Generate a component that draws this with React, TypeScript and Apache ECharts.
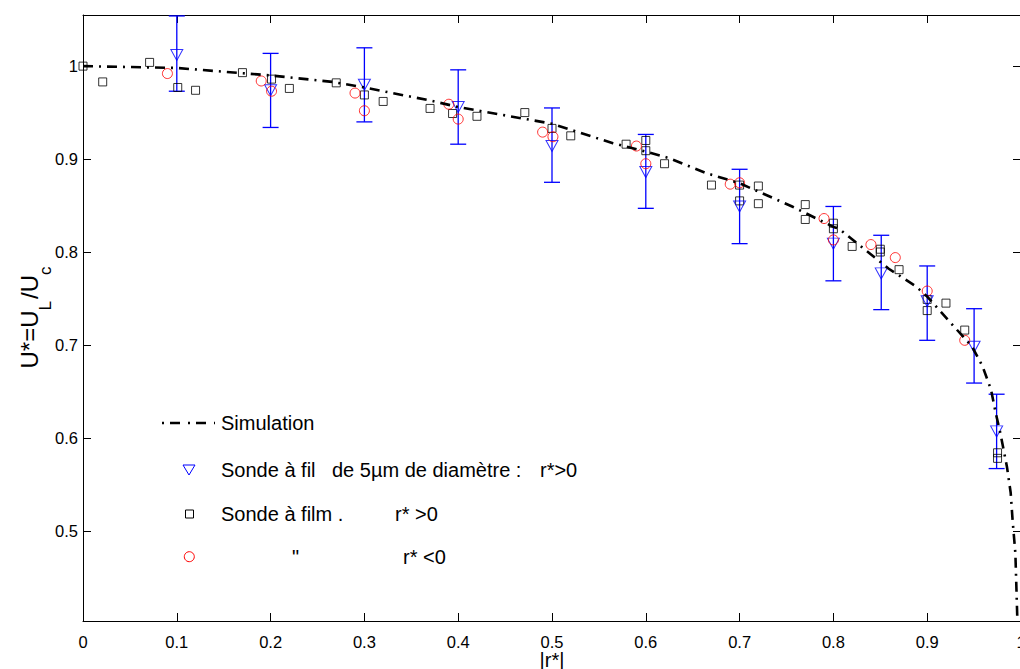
import React, { useEffect, useRef } from 'react';
import * as echarts from 'echarts';

const FONT = '"Liberation Sans", Arial, Helvetica, sans-serif';

// Simulation curve
const simR = [0, 0.1, 0.2, 0.266, 0.3, 0.37, 0.4, 0.5, 0.565, 0.6, 0.625, 0.664, 0.7, 0.756, 0.8, 0.806, 0.859, 0.888, 0.9, 0.948, 0.959, 0.968, 0.973, 0.978, 0.985, 0.989, 0.991, 0.994, 0.996, 0.9965];
const simU = [1.0, 0.998, 0.99, 0.983, 0.977, 0.963, 0.956, 0.938, 0.917, 0.908, 0.901, 0.885, 0.874, 0.849, 0.827, 0.825, 0.782, 0.763, 0.752, 0.698, 0.677, 0.652, 0.627, 0.605, 0.569, 0.541, 0.512, 0.476, 0.408, 0.402];

// Sonde à fil (r* > 0) with error bars
const trR = [0.1, 0.2, 0.3, 0.4, 0.5, 0.6, 0.7, 0.8, 0.851, 0.9, 0.95, 0.974];
const trU = [1.012, 0.974, 0.980, 0.956, 0.914, 0.886, 0.849, 0.809, 0.777, 0.747, 0.698, 0.607];
const trLow = [0.973, 0.934, 0.940, 0.916, 0.875, 0.847, 0.809, 0.769, 0.738, 0.705, 0.659, 0.567];
const trHigh = [1.054, 1.0137, 1.0197, 0.996, 0.955, 0.9265, 0.889, 0.849, 0.818, 0.785, 0.739, 0.647];

// Sonde à film, r* > 0
const sqR = [0, 0.021, 0.071, 0.101, 0.120, 0.170, 0.201, 0.220, 0.270, 0.300, 0.320, 0.370, 0.394, 0.420, 0.471, 0.500, 0.520, 0.579, 0.600, 0.600, 0.620, 0.670, 0.700, 0.700, 0.720, 0.720, 0.770, 0.770, 0.800, 0.800, 0.820, 0.850, 0.850, 0.870, 0.900, 0.900, 0.920, 0.940, 0.975, 0.975];
const sqU = [1.0, 0.983, 1.004, 0.977, 0.974, 0.993, 0.986, 0.976, 0.982, 0.969, 0.962, 0.9545, 0.949, 0.946, 0.950, 0.933, 0.925, 0.916, 0.920, 0.909, 0.895, 0.872, 0.872, 0.855, 0.871, 0.852, 0.851, 0.835, 0.831, 0.825, 0.806, 0.803, 0.800, 0.781, 0.749, 0.737, 0.745, 0.716, 0.584, 0.578];

// Sonde à film, r* < 0
const ciR = [0.090, 0.190, 0.201, 0.290, 0.300, 0.390, 0.400, 0.490, 0.501, 0.590, 0.600, 0.690, 0.700, 0.790, 0.800, 0.840, 0.866, 0.900, 0.940];
const ciU = [0.992, 0.984, 0.973, 0.971, 0.952, 0.959, 0.943, 0.929, 0.924, 0.914, 0.895, 0.873, 0.8745, 0.836, 0.813, 0.808, 0.794, 0.758, 0.705];

const legendLabels = {
  sim: 'Simulation',
  fil1: 'Sonde à fil',
  fil2: 'de 5µm de diamètre :',
  fil3: 'r*>0',
  film1: 'Sonde à film .',
  film2: 'r* >0',
  neg1: '"',
  neg2: 'r* <0',
};

const fmt = (v: number) => {
  const r = Math.round(v * 10) / 10;
  if (Math.abs(v - r) > 1e-6) return '';
  return String(r);
};

export default function App() {
  const ref = useRef<HTMLDivElement>(null);
  useEffect(() => {
    const chart = echarts.init(ref.current!, null, { renderer: 'svg' });
    const axisLine = { show: true, onZero: false, lineStyle: { color: '#000', width: 1 } };
    const axisTick = { show: true, inside: true, length: 8, lineStyle: { color: '#000', width: 1 } };
    const labelStyle = { color: '#000', fontSize: 16.5, fontFamily: FONT };
    const yMin = 0.403;
    const yMax = 1.055;
    const textStyle = (t: string, x: number, y: number) => ({
      type: 'text', x, y, silent: true,
      style: { text: t, fontSize: 20, fontFamily: FONT, fill: '#000', align: 'left', verticalAlign: 'middle' },
    });
    const option: any = {
      animation: false,
      backgroundColor: '#fff',
      grid: { left: 83, top: 15, width: 938, height: 606, containLabel: false, outerBoundsMode: 'none' },
      xAxis: [
        { type: 'value', min: 0, max: 1, interval: 0.1, position: 'bottom', axisLine, axisTick,
          axisLabel: { ...labelStyle, margin: 12, formatter: fmt }, splitLine: { show: false } },
        { type: 'value', min: 0, max: 1, interval: 0.1, position: 'top', axisLine, axisTick,
          axisLabel: { show: false }, splitLine: { show: false } },
      ],
      yAxis: [
        { type: 'value', min: yMin, max: yMax, splitNumber: 6, position: 'left', axisLine, axisTick,
          axisLabel: { ...labelStyle, margin: 5, formatter: fmt }, splitLine: { show: false } },
        { type: 'value', min: yMin, max: yMax, splitNumber: 6, position: 'right', axisLine, axisTick,
          axisLabel: { show: false }, splitLine: { show: false } },
      ],
      series: [
        {
          type: 'line', name: 'Simulation', data: simR.map((r, i) => [r, simU[i]]),
          showSymbol: false, symbol: 'none', silent: true,
          lineStyle: { color: '#000', width: 2.6, type: [10, 6, 2, 6] },
        },
        {
          type: 'custom', name: 'errbars', silent: true,
          data: trR.map((r, i) => [r, trLow[i], trHigh[i]]),
          encode: { x: 0, y: [1, 2] },
          renderItem: (params: any, api: any) => {
            const x = api.value(0);
            const lo = api.coord([x, api.value(1)]);
            const hi = api.coord([x, api.value(2)]);
            const w = 8;
            const st = { stroke: '#0000ff', lineWidth: 1.3 };
            return {
              type: 'group',
              children: [
                { type: 'line', shape: { x1: lo[0], y1: lo[1], x2: hi[0], y2: hi[1] }, style: st },
                { type: 'line', shape: { x1: lo[0] - w, y1: lo[1], x2: lo[0] + w, y2: lo[1] }, style: st },
                { type: 'line', shape: { x1: hi[0] - w, y1: hi[1], x2: hi[0] + w, y2: hi[1] }, style: st },
              ],
            };
          },
        },
        {
          type: 'scatter', name: 'film+', silent: true, data: sqR.map((r, i) => [r, sqU[i]]),
          symbol: 'rect', symbolSize: 8,
          itemStyle: { color: 'rgba(0,0,0,0)', borderColor: '#000', borderWidth: 1 },
        },
        {
          type: 'scatter', name: 'fil', silent: true, data: trR.map((r, i) => [r, trU[i]]),
          symbol: 'path://M0,0L12,0L6,11Z', symbolSize: [12, 11],
          itemStyle: { color: 'rgba(0,0,0,0)', borderColor: '#0000ff', borderWidth: 1 },
        },
        {
          type: 'scatter', name: 'film-', silent: true, data: ciR.map((r, i) => [r, ciU[i]]),
          symbol: 'circle', symbolSize: 10,
          itemStyle: { color: 'rgba(0,0,0,0)', borderColor: '#ff0000', borderWidth: 1 },
        },
      ],
      graphic: [
        { type: 'line', silent: true, shape: { x1: 162, y1: 423, x2: 215, y2: 423 },
          style: { stroke: '#000', lineWidth: 2.6, lineDash: [2, 6, 10, 8] } },
        textStyle(legendLabels.sim, 221, 423),
        { type: 'polygon', silent: true, shape: { points: [[183, 465], [195, 465], [189, 475]] },
          style: { fill: 'none', stroke: '#0000ff', lineWidth: 1 } },
        textStyle(legendLabels.fil1, 221, 470),
        textStyle(legendLabels.fil2, 332, 470),
        textStyle(legendLabels.fil3, 540, 470),
        { type: 'rect', silent: true, shape: { x: 185.5, y: 510, width: 8, height: 8 },
          style: { fill: 'none', stroke: '#000', lineWidth: 1 } },
        textStyle(legendLabels.film1, 221, 514),
        textStyle(legendLabels.film2, 395, 514),
        { type: 'circle', silent: true, shape: { cx: 189.3, cy: 556.7, r: 5 },
          style: { fill: 'none', stroke: '#ff0000', lineWidth: 1 } },
        textStyle(legendLabels.neg1, 292, 557),
        textStyle(legendLabels.neg2, 403, 557),
        {
          type: 'text', x: 552, y: 659.5, silent: true,
          style: { text: '|r*|', fontSize: 20, fontFamily: FONT, fill: '#000', align: 'center', verticalAlign: 'middle' },
        },
        {
          type: 'text', x: 29, y: 316.5, rotation: Math.PI / 2, silent: true,
          style: {
            text: '{m|U*=U}{s|L}{m|/U}{s|c}',
            align: 'center', verticalAlign: 'middle',
            rich: {
              m: { fontSize: 24, lineHeight: 24, fontFamily: FONT, fill: '#000', verticalAlign: 'top' },
              s: { fontSize: 17, lineHeight: 17, fontFamily: FONT, fill: '#000', verticalAlign: 'top', padding: [20, 2, 0, 0] },
            },
          },
        },
      ],
    };
    chart.setOption(option);
    return () => chart.dispose();
  }, []);
  return (
    <div style={{ position: 'fixed', left: 0, top: 0, width: 1020, height: 669, overflow: 'hidden', background: '#fff' }}>
      <div ref={ref} style={{ width: 1022, height: 669 }} />
    </div>
  );
}
